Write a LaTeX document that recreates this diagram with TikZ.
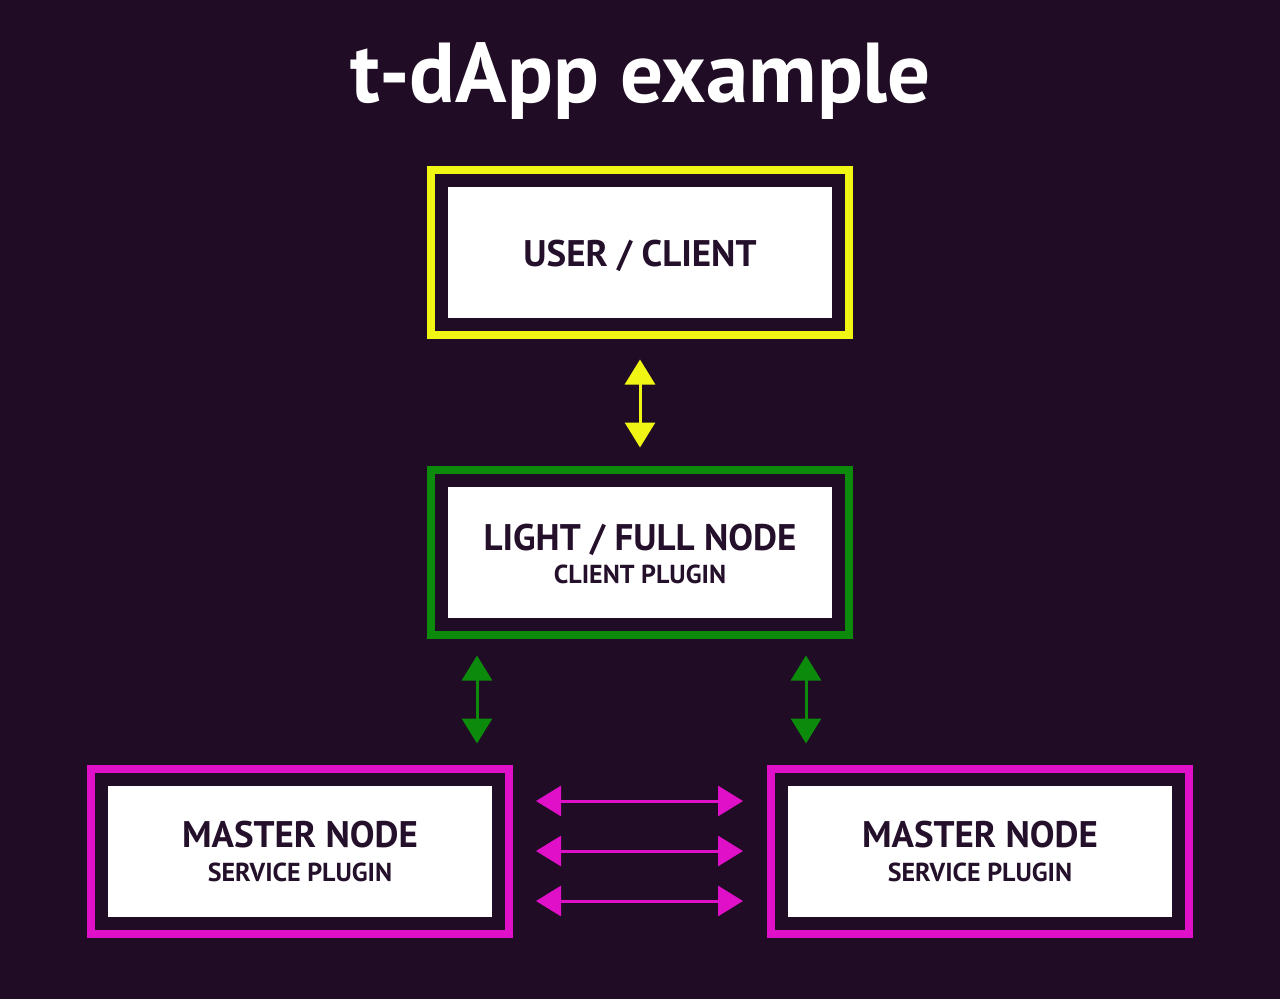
\documentclass[tikz,border=0pt]{standalone}
\usepackage{fontspec}
\setmainfont{PT Sans}
\usetikzlibrary{arrows.meta}
\definecolor{bgpurple}{RGB}{32,12,37}
\definecolor{inkpurple}{RGB}{36,16,42}
\definecolor{boxyellow}{RGB}{240,245,20}
\definecolor{boxgreen}{RGB}{12,138,12}
\definecolor{boxmagenta}{RGB}{224,16,200}
\tikzset{
  frame/.style={draw=#1, line width=8pt, minimum width=418pt, minimum height=165pt, inner sep=0pt},
  inbox/.style={fill=white, minimum width=384pt, minimum height=131pt, inner sep=0pt},
  head/.style={text=inkpurple, font=\fontsize{37}{37}\selectfont\bfseries, anchor=base, inner sep=0pt},
  sub/.style={text=inkpurple, font=\fontsize{26}{26}\selectfont\bfseries, anchor=base, inner sep=0pt},
  dbl/.style={draw=#1, line width=3pt, {Triangle[length=25pt,width=30pt]}-{Triangle[length=25pt,width=30pt]}}
}
\begin{document}
\begin{tikzpicture}[x=1pt,y=-1pt]
\fill[bgpurple] (0,0) rectangle (1280,999);
\useasboundingbox (0,0) rectangle (1280,999);
\node[text=white, font=\fontsize{85}{85}\selectfont\bfseries, anchor=base, inner sep=0pt] (title) at (641,102) {t-dApp example};

\node[frame=boxyellow] (userframe) at (640,252) {};
\node[inbox] (userbox) at (640,252) {};
\node[head] (userhead) at (640,266) {USER / CLIENT};

\node[frame=boxgreen] (lightframe) at (640,552) {};
\node[inbox] (lightbox) at (640,552) {};
\node[head] (lighthead) at (640,550) {LIGHT / FULL NODE};
\node[sub] (lightsub) at (640,583) {CLIENT PLUGIN};

\node[frame=boxmagenta] (leftframe) at (300,851) {};
\node[inbox] (leftbox) at (300,851) {};
\node[head] (lefthead) at (300,847) {MASTER NODE};
\node[sub] (leftsub) at (300,881) {SERVICE PLUGIN};

\node[frame=boxmagenta] (rightframe) at (980,851) {};
\node[inbox] (rightbox) at (980,851) {};
\node[head] (righthead) at (980,847) {MASTER NODE};
\node[sub] (rightsub) at (980,881) {SERVICE PLUGIN};

\draw[dbl=boxyellow, shorten <=21pt, shorten >=18pt] (userframe.south) -- (lightframe.north);
\draw[dbl=boxgreen, shorten <=17pt, shorten >=21pt] (477,0 |- lightframe.south) -- (477,0 |- leftframe.north);
\draw[dbl=boxgreen, shorten <=17pt, shorten >=21pt] (806,0 |- lightframe.south) -- (806,0 |- rightframe.north);
\foreach \dy in {-50,0,50}
  \draw[dbl=boxmagenta, shorten <=23pt, shorten >=24pt] ([yshift=\dy pt]leftframe.east) -- ([yshift=\dy pt]rightframe.west);
\end{tikzpicture}
\end{document}
